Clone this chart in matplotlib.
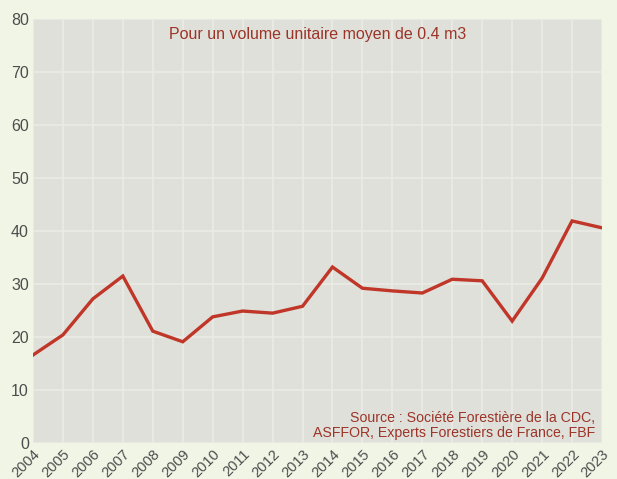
import numpy as np
import matplotlib
matplotlib.use("Agg")
import matplotlib.pyplot as plt

years = list(range(2004, 2024))
values = [16.6, 20.4, 27.2, 31.5, 21.1, 19.1, 23.8, 24.9, 24.5, 25.8,
          33.2, 29.2, 28.7, 28.3, 30.9, 30.6, 23.0, 31.1, 41.9, 40.6]
y_ticks = [0, 10, 20, 30, 40, 50, 60, 70, 80]

plt.rcParams["font.family"] = ["Liberation Sans", "DejaVu Sans"]

fig = plt.figure(figsize=(6.17, 4.79), dpi=100, facecolor="#f1f5e6")
ax = fig.add_axes([33 / 617, 1 - 443 / 479, 569 / 617, 424 / 479])
ax.set_facecolor("#dfe0da")

ax.plot(years, values, color="#c03628", lw=2.4, solid_joinstyle="miter")

ax.set_xlim(2004, 2023)
ax.set_ylim(0, 80)
ax.set_xticks(years)
ax.set_xticklabels([str(y) for y in years], rotation=45, ha="right",
                   rotation_mode="anchor", fontsize=10.5, color="#4d4d4d")
ax.set_yticks(y_ticks)
ax.set_yticklabels([str(v) for v in y_ticks], fontsize=11.5, color="#4d4d4d")
ax.tick_params(length=0, pad=3)
ax.grid(True, color="#ececE6", lw=1.1)
ax.set_axisbelow(True)
for s in ax.spines.values():
    s.set_visible(False)

ax.text(0.5, 0.982, "Pour un volume unitaire moyen de 0.4 m3", transform=ax.transAxes,
        ha="center", va="top", fontsize=11.5, color="#9c3428")
ax.text(0.988, 0.008, "Source : Société Forestière de la CDC,\nASFFOR, Experts Forestiers de France, FBF",
        transform=ax.transAxes, ha="right", va="bottom", fontsize=10.2, color="#9c3428",
        linespacing=1.05)

fig.savefig("out.png", dpi=100, facecolor=fig.get_facecolor())
